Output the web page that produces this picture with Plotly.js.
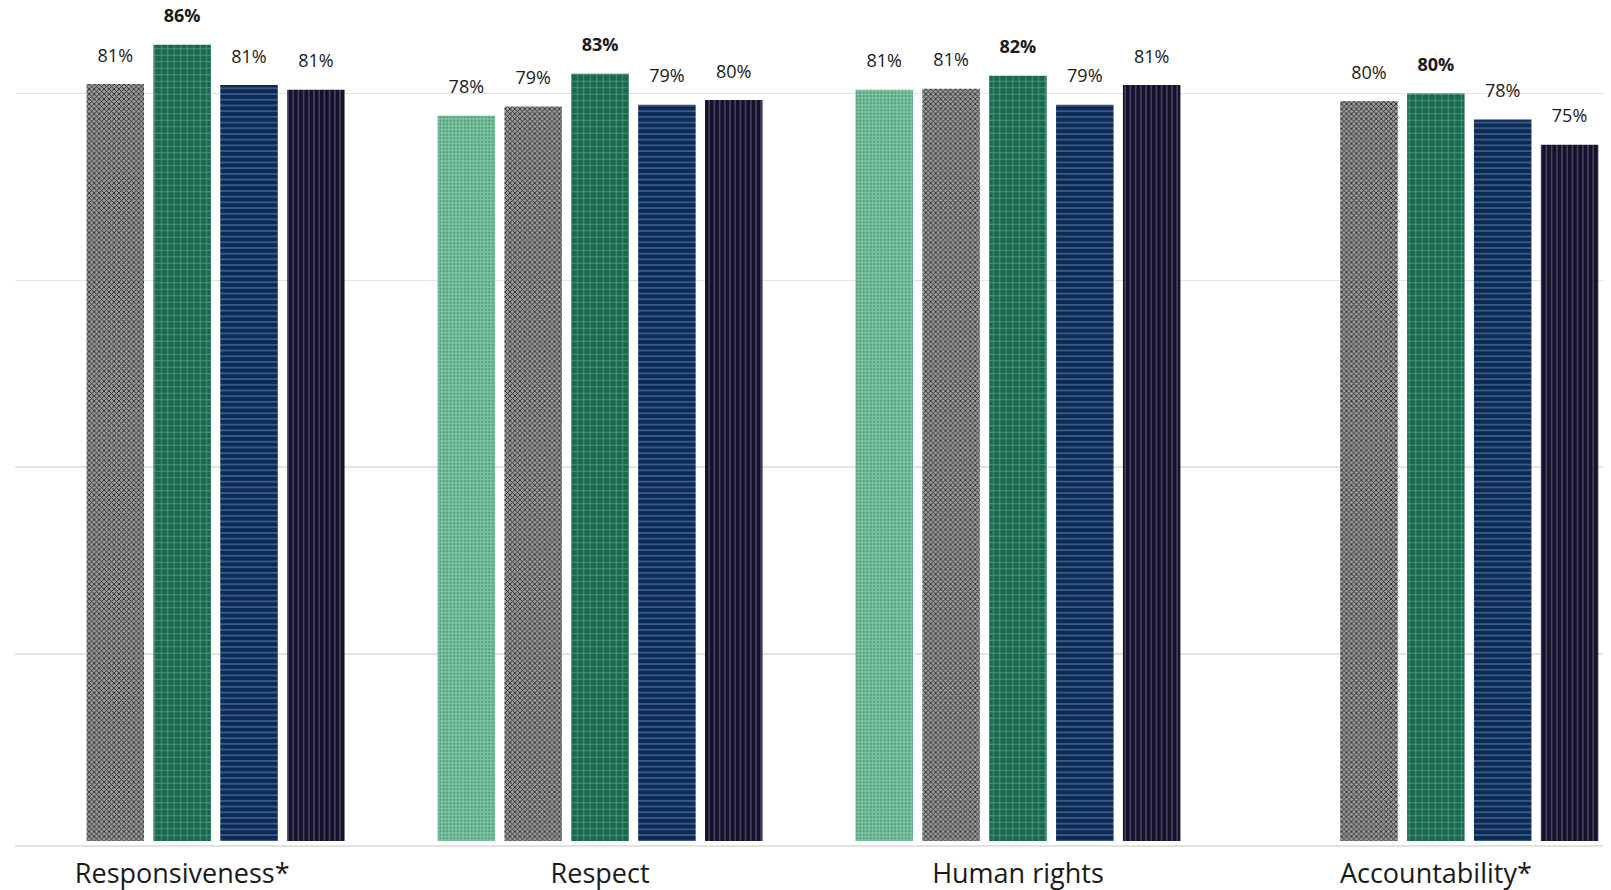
<!DOCTYPE html>
<html>
<head>
<meta charset="utf-8">
<script src="https://cdn.plot.ly/plotly-3.0.1.min.js"></script>
<style>
  html, body { margin: 0; padding: 0; background: #ffffff; }
  #chart { width: 1611px; height: 890px; }
</style>
</head>
<body>
<div id="chart"></div>
<script>
// ---- Data ----
const categories = ['Responsiveness*', 'Respect', 'Human rights', 'Accountability*'];

const seriesNames = ['Series 1', 'Series 2', 'Series 3', 'Series 4', 'Series 5'];

const series1Values = [null, 77.6, 80.4, null];
const series2Values = [81.0, 78.6, 80.5, 79.2];
const series3Values = [85.2, 82.1, 81.9, 80.0];
const series4Values = [80.9, 78.8, 78.8, 77.2];
const series5Values = [80.4, 79.3, 80.9, 74.5];

const series1Labels = [null, '78%', '81%', null];
const series2Labels = ['81%', '79%', '81%', '80%'];
const series3Labels = ['86%', '83%', '82%', '80%'];
const series4Labels = ['81%', '79%', '79%', '78%'];
const series5Labels = ['81%', '80%', '81%', '75%'];

const gridValues = [20, 40, 60, 80];

// ---- Styles ----
const FONT = '"Open Sans", Lato, "DejaVu Sans", sans-serif';
const styles = [
  { color: '#7cc2a1', pattern: { shape: '.', fgcolor: '#4f9a78', size: 3.5, solidity: 0.3 } },
  { color: '#9a9a9a', pattern: { shape: 'x', fgcolor: '#2a2a2a', size: 3.5, solidity: 0.45 } },
  { color: '#1a6a4f', pattern: { shape: '+', fgcolor: '#86bba4', size: 6.5, solidity: 0.13 } },
  { color: '#0a2b55', pattern: { shape: '-', fgcolor: '#7d96bb', size: 5.7, solidity: 0.14 } },
  { color: '#16112b', pattern: { shape: '|', fgcolor: '#6a6482', size: 5.2, solidity: 0.18 } }
];

const allValues = [series1Values, series2Values, series3Values, series4Values, series5Values];
const allLabels = [series1Labels, series2Labels, series3Labels, series4Labels, series5Labels];

const traces = [];
allValues.forEach((vals, i) => {
  traces.push({
    type: 'bar',
    name: seriesNames[i],
    x: categories,
    y: vals,
    offsetgroup: 'g' + i,
    marker: {
      color: styles[i].color,
      line: { width: 0 },
      pattern: Object.assign({ fillmode: 'replace', bgcolor: styles[i].color }, styles[i].pattern)
    },
    hoverinfo: 'x+y+name',
    showlegend: false
  });
});
allValues.forEach((vals, i) => {
  traces.push({
    type: 'scatter',
    mode: 'markers+text',
    x: categories,
    y: vals,
    text: allLabels[i],
    offsetgroup: 'g' + i,
    textposition: 'top center',
    marker: { size: 27, opacity: 0, color: 'rgba(0,0,0,0)' },
    textfont: { family: FONT, size: 18, color: '#1a1a1a', weight: i === 2 ? 'bold' : 'normal' },
    cliponaxis: false,
    hoverinfo: 'skip',
    showlegend: false
  });
});

const layout = {
  width: 1611,
  height: 890,
  margin: { l: 15, r: 8, t: 0, b: 45 },
  paper_bgcolor: '#ffffff',
  plot_bgcolor: '#ffffff',
  barmode: 'group',
  scattermode: 'group',
  bargap: 0.2,
  scattergap: 0.2,
  bargroupgap: 0.14,
  showlegend: false,
  font: { family: FONT, color: '#1a1a1a' },
  xaxis: {
    type: 'category',
    range: [-0.4, 3.4],
    showgrid: false,
    showline: true,
    linecolor: '#e2e2de',
    linewidth: 2,
    ticks: '',
    ticklabelstandoff: 4,
    tickfont: { family: FONT, size: 27, color: '#1a1a1a' },
    fixedrange: true
  },
  yaxis: {
    range: [-0.43, 90.0],
    tickvals: gridValues,
    showticklabels: false,
    showgrid: true,
    gridcolor: '#e4e4e0',
    gridwidth: 1.5,
    zeroline: false,
    showline: false,
    ticks: '',
    fixedrange: true
  }
};

Plotly.newPlot('chart', traces, layout, { displayModeBar: false, staticPlot: true });
</script>
</body>
</html>
